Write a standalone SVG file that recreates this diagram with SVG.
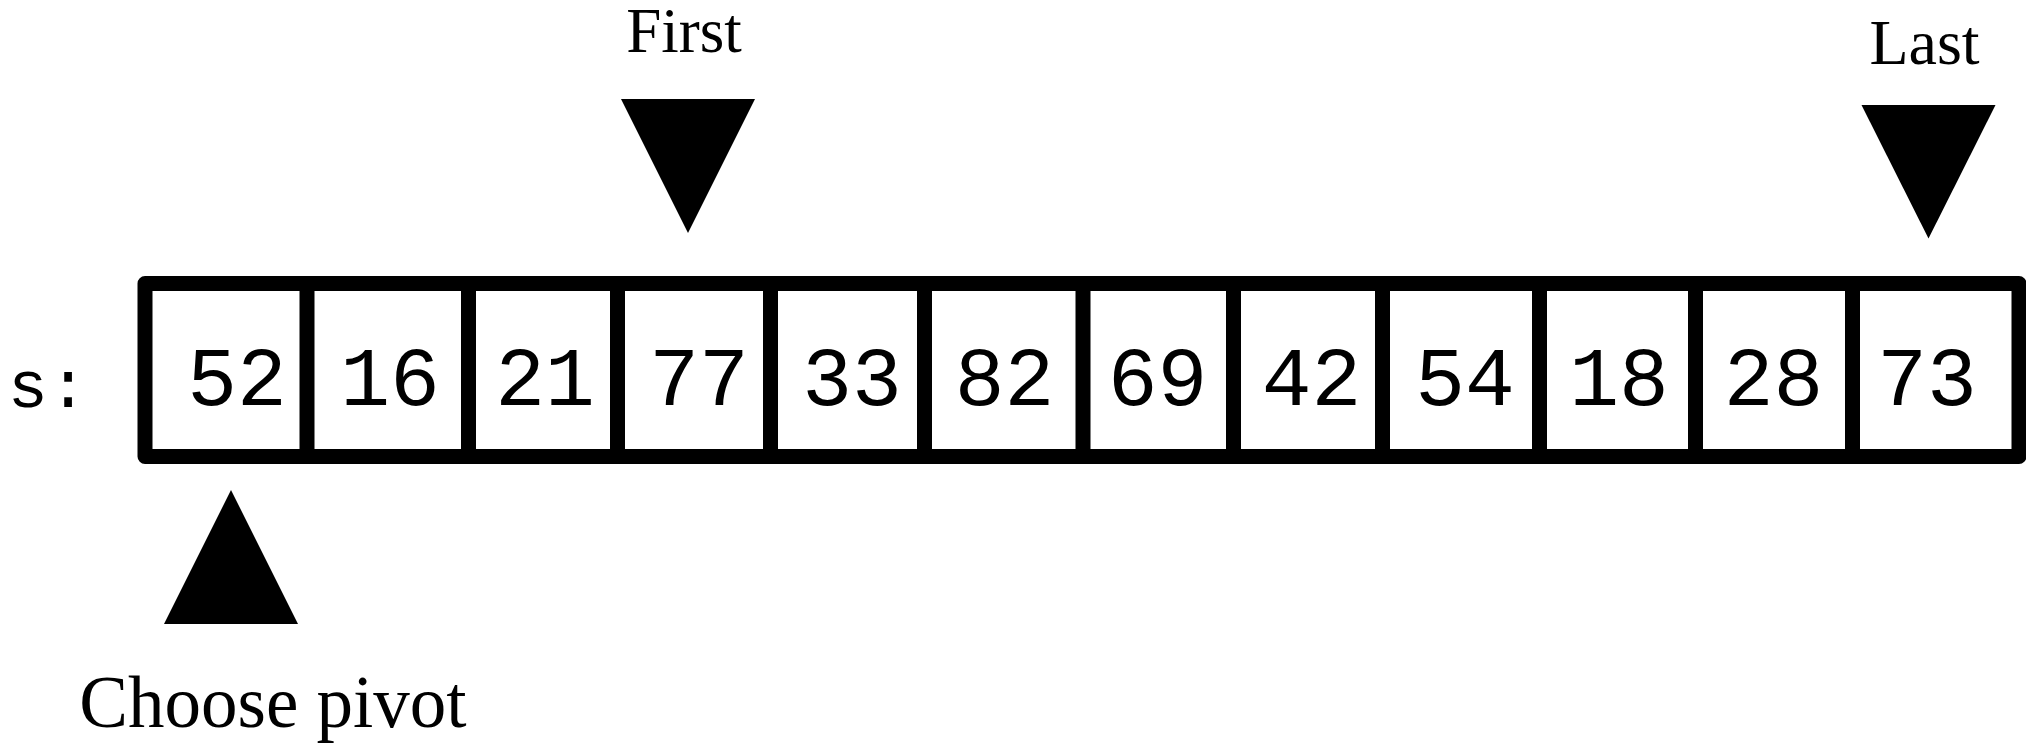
<svg xmlns="http://www.w3.org/2000/svg" width="2026" height="744" viewBox="0 0 2026 744">
<style>
.frame{fill:#fff;stroke:#000;stroke-width:15;stroke-linejoin:round}
.div{stroke:#000;stroke-width:15}
.num{font-family:"Liberation Mono","Courier New",monospace;font-size:83px;fill:#000;text-anchor:middle}
.lbl{font-family:"Liberation Serif","Times New Roman",serif;font-size:63px;fill:#000;text-anchor:middle}
.tri{fill:#000}
</style>
<rect width="2026" height="744" fill="#fff"/>
<text id="name" x="48" y="407" class="num" style="font-size:67px">s:</text>
<g id="array">
<rect class="frame" x="145" y="283.5" width="1874" height="173"/>
<g class="dividers">
<line class="div" x1="307" y1="283.5" x2="307" y2="456.5"/>
<line class="div" x1="468.5" y1="283.5" x2="468.5" y2="456.5"/>
<line class="div" x1="617.5" y1="283.5" x2="617.5" y2="456.5"/>
<line class="div" x1="770.5" y1="283.5" x2="770.5" y2="456.5"/>
<line class="div" x1="924.5" y1="283.5" x2="924.5" y2="456.5"/>
<line class="div" x1="1083" y1="283.5" x2="1083" y2="456.5"/>
<line class="div" x1="1233.5" y1="283.5" x2="1233.5" y2="456.5"/>
<line class="div" x1="1382.5" y1="283.5" x2="1382.5" y2="456.5"/>
<line class="div" x1="1539.5" y1="283.5" x2="1539.5" y2="456.5"/>
<line class="div" x1="1695.5" y1="283.5" x2="1695.5" y2="456.5"/>
<line class="div" x1="1852.5" y1="283.5" x2="1852.5" y2="456.5"/>
</g>
<g id="cell0"><text class="num" x="237" y="405">52</text></g>
<g id="cell1"><text class="num" x="390" y="405">16</text></g>
<g id="cell2"><text class="num" x="545" y="405">21</text></g>
<g id="cell3"><text class="num" x="699" y="405">77</text></g>
<g id="cell4"><text class="num" x="852" y="405">33</text></g>
<g id="cell5"><text class="num" x="1004.5" y="405">82</text></g>
<g id="cell6"><text class="num" x="1157.5" y="405">69</text></g>
<g id="cell7"><text class="num" x="1311.5" y="405">42</text></g>
<g id="cell8"><text class="num" x="1465" y="405">54</text></g>
<g id="cell9"><text class="num" x="1619" y="405">18</text></g>
<g id="cell10"><text class="num" x="1773.5" y="405">28</text></g>
<g id="cell11"><text class="num" x="1927" y="405">73</text></g>
</g>
<g id="label-first"><text class="lbl" x="684" y="52">First</text></g>
<g id="label-last"><text class="lbl" x="1924.5" y="64" style="font-size:64px">Last</text></g>
<g id="label-pivot"><text class="lbl" x="273" y="727" style="font-size:73px">Choose pivot</text></g>
<g id="connectors">
<polygon id="ptr-first" class="tri" points="621,99 755,99 688,233"/>
<polygon id="ptr-last" class="tri" points="1861.5,105 1995.5,105 1928.5,238.5"/>
<polygon id="ptr-pivot" class="tri" points="164,624 298,624 231,490"/>
</g>
</svg>
